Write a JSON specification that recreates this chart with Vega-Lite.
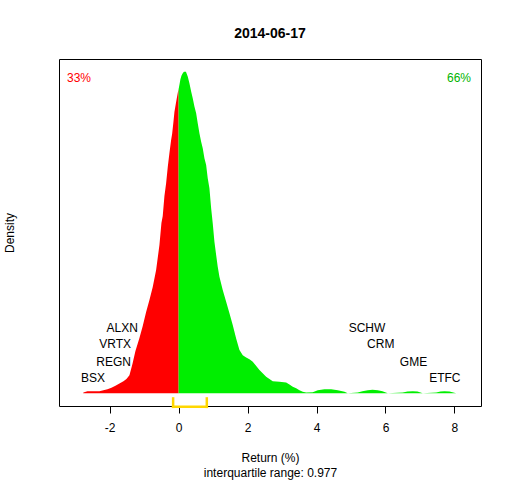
{
  "$schema": "https://vega.github.io/schema/vega-lite/v6.json",
  "width": 422,
  "height": 347,
  "autosize": {"type": "none"},
  "padding": {"left": 59, "top": 59, "right": 31, "bottom": 74},
  "background": "white",
  "title": {
    "text": "2014-06-17",
    "font": "Liberation Sans",
    "fontSize": 14,
    "fontWeight": "bold",
    "color": "black",
    "anchor": "middle",
    "frame": "group",
    "baseline": "alphabetic",
    "offset": 7
  },
  "datasets": {
    "density": [
      {"ret": -2.77, "dens": 0, "side": "neg"},
      {"ret": -2.762, "dens": 0.0013, "side": "neg"},
      {"ret": -2.646, "dens": 0.0037, "side": "neg"},
      {"ret": -2.298, "dens": 0.0037, "side": "neg"},
      {"ret": -2.181, "dens": 0.0056, "side": "neg"},
      {"ret": -2.065, "dens": 0.0075, "side": "neg"},
      {"ret": -1.949, "dens": 0.0103, "side": "neg"},
      {"ret": -1.833, "dens": 0.014, "side": "neg"},
      {"ret": -1.717, "dens": 0.0178, "side": "neg"},
      {"ret": -1.601, "dens": 0.0224, "side": "neg"},
      {"ret": -1.514, "dens": 0.0262, "side": "neg"},
      {"ret": -1.427, "dens": 0.0336, "side": "neg"},
      {"ret": -1.34, "dens": 0.0542, "side": "neg"},
      {"ret": -1.253, "dens": 0.0785, "side": "neg"},
      {"ret": -1.137, "dens": 0.1028, "side": "neg"},
      {"ret": -1.041, "dens": 0.1252, "side": "neg"},
      {"ret": -0.943, "dens": 0.1514, "side": "neg"},
      {"ret": -0.847, "dens": 0.1738, "side": "neg"},
      {"ret": -0.751, "dens": 0.1981, "side": "neg"},
      {"ret": -0.653, "dens": 0.2299, "side": "neg"},
      {"ret": -0.557, "dens": 0.2766, "side": "neg"},
      {"ret": -0.499, "dens": 0.3177, "side": "neg"},
      {"ret": -0.461, "dens": 0.3308, "side": "neg"},
      {"ret": -0.412, "dens": 0.368, "side": "neg"},
      {"ret": -0.363, "dens": 0.392, "side": "neg"},
      {"ret": -0.316, "dens": 0.422, "side": "neg"},
      {"ret": -0.267, "dens": 0.4486, "side": "neg"},
      {"ret": -0.218, "dens": 0.4729, "side": "neg"},
      {"ret": -0.189, "dens": 0.4841, "side": "neg"},
      {"ret": -0.151, "dens": 0.5065, "side": "neg"},
      {"ret": -0.122, "dens": 0.5252, "side": "neg"},
      {"ret": -0.073, "dens": 0.5439, "side": "neg"},
      {"ret": -0.026, "dens": 0.5607, "side": "neg"},
      {"ret": 0, "dens": 0.568, "side": "neg"},
      {"ret": 0, "dens": 0.568, "side": "pos"},
      {"ret": 0.023, "dens": 0.5757, "side": "pos"},
      {"ret": 0.052, "dens": 0.5863, "side": "pos"},
      {"ret": 0.081, "dens": 0.5925, "side": "pos"},
      {"ret": 0.119, "dens": 0.5975, "side": "pos"},
      {"ret": 0.154, "dens": 0.6, "side": "pos"},
      {"ret": 0.212, "dens": 0.6, "side": "pos"},
      {"ret": 0.264, "dens": 0.5912, "side": "pos"},
      {"ret": 0.313, "dens": 0.5788, "side": "pos"},
      {"ret": 0.363, "dens": 0.5631, "side": "pos"},
      {"ret": 0.409, "dens": 0.5508, "side": "pos"},
      {"ret": 0.458, "dens": 0.5351, "side": "pos"},
      {"ret": 0.508, "dens": 0.5228, "side": "pos"},
      {"ret": 0.554, "dens": 0.5041, "side": "pos"},
      {"ret": 0.603, "dens": 0.4854, "side": "pos"},
      {"ret": 0.653, "dens": 0.4697, "side": "pos"},
      {"ret": 0.699, "dens": 0.4573, "side": "pos"},
      {"ret": 0.748, "dens": 0.4387, "side": "pos"},
      {"ret": 0.798, "dens": 0.4262, "side": "pos"},
      {"ret": 0.844, "dens": 0.4013, "side": "pos"},
      {"ret": 0.893, "dens": 0.3826, "side": "pos"},
      {"ret": 0.943, "dens": 0.3452, "side": "pos"},
      {"ret": 0.989, "dens": 0.3172, "side": "pos"},
      {"ret": 1.038, "dens": 0.2828, "side": "pos"},
      {"ret": 1.088, "dens": 0.2579, "side": "pos"},
      {"ret": 1.134, "dens": 0.2361, "side": "pos"},
      {"ret": 1.183, "dens": 0.2174, "side": "pos"},
      {"ret": 1.279, "dens": 0.1925, "side": "pos"},
      {"ret": 1.378, "dens": 0.1706, "side": "pos"},
      {"ret": 1.474, "dens": 0.149, "side": "pos"},
      {"ret": 1.569, "dens": 0.1271, "side": "pos"},
      {"ret": 1.668, "dens": 0.1022, "side": "pos"},
      {"ret": 1.764, "dens": 0.0804, "side": "pos"},
      {"ret": 1.86, "dens": 0.071, "side": "pos"},
      {"ret": 1.958, "dens": 0.0667, "side": "pos"},
      {"ret": 2.054, "dens": 0.0635, "side": "pos"},
      {"ret": 2.15, "dens": 0.0585, "side": "pos"},
      {"ret": 2.344, "dens": 0.043, "side": "pos"},
      {"ret": 2.538, "dens": 0.0305, "side": "pos"},
      {"ret": 2.73, "dens": 0.0224, "side": "pos"},
      {"ret": 2.924, "dens": 0.0211, "side": "pos"},
      {"ret": 3.119, "dens": 0.02, "side": "pos"},
      {"ret": 3.214, "dens": 0.0163, "side": "pos"},
      {"ret": 3.31, "dens": 0.0118, "side": "pos"},
      {"ret": 3.409, "dens": 0.0093, "side": "pos"},
      {"ret": 3.504, "dens": 0.0056, "side": "pos"},
      {"ret": 3.6, "dens": 0.0028, "side": "pos"},
      {"ret": 3.699, "dens": 0.0013, "side": "pos"},
      {"ret": 3.89, "dens": 0.0019, "side": "pos"},
      {"ret": 4.035, "dens": 0.0056, "side": "pos"},
      {"ret": 4.23, "dens": 0.0075, "side": "pos"},
      {"ret": 4.424, "dens": 0.0075, "side": "pos"},
      {"ret": 4.615, "dens": 0.0056, "side": "pos"},
      {"ret": 4.81, "dens": 0.0024, "side": "pos"},
      {"ret": 4.905, "dens": 0, "side": "pos"},
      {"ret": 5.195, "dens": 0.0013, "side": "pos"},
      {"ret": 5.332, "dens": 0.0037, "side": "pos"},
      {"ret": 5.486, "dens": 0.0056, "side": "pos"},
      {"ret": 5.623, "dens": 0.0062, "side": "pos"},
      {"ret": 5.776, "dens": 0.0056, "side": "pos"},
      {"ret": 5.912, "dens": 0.0037, "side": "pos"},
      {"ret": 6.066, "dens": 0, "side": "pos"},
      {"ret": 6.501, "dens": 0.0013, "side": "pos"},
      {"ret": 6.637, "dens": 0.0032, "side": "pos"},
      {"ret": 6.791, "dens": 0.0037, "side": "pos"},
      {"ret": 6.927, "dens": 0.0032, "side": "pos"},
      {"ret": 7.081, "dens": 0, "side": "pos"},
      {"ret": 7.47, "dens": 0.0013, "side": "pos"},
      {"ret": 7.595, "dens": 0.0032, "side": "pos"},
      {"ret": 7.711, "dens": 0.0037, "side": "pos"},
      {"ret": 7.856, "dens": 0.0032, "side": "pos"},
      {"ret": 8.05, "dens": 0, "side": "pos"}
    ],
    "tickers": [
      {"ticker": "ALXN", "ret": -1.636, "level": 0.122},
      {"ticker": "VRTX", "ret": -1.839, "level": 0.091},
      {"ticker": "REGN", "ret": -1.886, "level": 0.0585},
      {"ticker": "BSX", "ret": -2.486, "level": 0.0286},
      {"ticker": "SCHW", "ret": 5.463, "level": 0.122},
      {"ticker": "CRM", "ret": 5.863, "level": 0.091},
      {"ticker": "GME", "ret": 6.812, "level": 0.0585},
      {"ticker": "ETFC", "ret": 7.72, "level": 0.0286}
    ],
    "shares": [
      {"label": "33%", "side": "neg", "ret": -2.89, "level": 0.589},
      {"label": "66%", "side": "pos", "ret": 8.131, "level": 0.589}
    ],
    "iqr": [
      {"q1": -0.16, "q3": 0.817}
    ]
  },
  "layer": [
    {
      "data": {"name": "density"},
      "mark": {"type": "area", "interpolate": "linear", "opacity": 1},
      "encoding": {
        "x": {
          "field": "ret",
          "type": "quantitative",
          "title": ["Return (%)", "interquartile range: 0.977"],
          "scale": {"domain": [-3.47, 8.77], "nice": false, "zero": false},
          "axis": {"values": [-2, 0, 2, 4, 6, 8], "labelExpr": "'' + datum.value"}
        },
        "y": {
          "field": "dens",
          "type": "quantitative",
          "title": "Density",
          "scale": {"domain": [-0.024, 0.624], "nice": false, "zero": false},
          "axis": {"labels": false, "ticks": false, "domain": false}
        },
        "y2": {"datum": 0},
        "color": {
          "field": "side",
          "type": "nominal",
          "scale": {"domain": ["neg", "pos"], "range": ["#FF0000", "#00EE00"]},
          "legend": null
        }
      }
    },
    {
      "mark": {"type": "rule", "color": "#BEBEBE", "strokeWidth": 1},
      "encoding": {
        "x": {"datum": -3.47, "type": "quantitative"},
        "x2": {"datum": 8.77},
        "y": {"datum": 0, "type": "quantitative"}
      }
    },
    {
      "mark": {"type": "rule", "color": "white", "strokeWidth": 1.3},
      "encoding": {
        "x": {"datum": 0, "type": "quantitative"},
        "y": {"datum": 0, "type": "quantitative"},
        "y2": {"datum": 0.572}
      }
    },
    {
      "data": {"name": "iqr"},
      "mark": {"type": "rule", "color": "#FFD700", "strokeWidth": 2.5, "strokeCap": "square"},
      "encoding": {
        "x": {"field": "q1", "type": "quantitative"},
        "x2": {"field": "q3"},
        "y": {"datum": -0.0256, "type": "quantitative"}
      }
    },
    {
      "data": {"name": "iqr"},
      "mark": {"type": "rule", "color": "#FFD700", "strokeWidth": 2.5, "strokeCap": "square"},
      "encoding": {
        "x": {"field": "q1", "type": "quantitative"},
        "y": {"datum": -0.0256, "type": "quantitative"},
        "y2": {"datum": -0.0099}
      }
    },
    {
      "data": {"name": "iqr"},
      "mark": {"type": "rule", "color": "#FFD700", "strokeWidth": 2.5, "strokeCap": "square"},
      "encoding": {
        "x": {"field": "q3", "type": "quantitative"},
        "y": {"datum": -0.0256, "type": "quantitative"},
        "y2": {"datum": -0.0099}
      }
    },
    {
      "data": {"name": "tickers"},
      "mark": {
        "type": "text",
        "font": "Liberation Sans",
        "fontSize": 12,
        "color": "black",
        "align": "center",
        "baseline": "middle"
      },
      "encoding": {
        "x": {"field": "ret", "type": "quantitative"},
        "y": {"field": "level", "type": "quantitative"},
        "text": {"field": "ticker"}
      }
    },
    {
      "data": {"name": "shares"},
      "mark": {
        "type": "text",
        "font": "Liberation Sans",
        "fontSize": 12,
        "align": "center",
        "baseline": "middle"
      },
      "encoding": {
        "x": {"field": "ret", "type": "quantitative"},
        "y": {"field": "level", "type": "quantitative"},
        "text": {"field": "label"},
        "color": {
          "field": "side",
          "type": "nominal",
          "scale": {"domain": ["neg", "pos"], "range": ["#FF0000", "#00B400"]},
          "legend": null
        }
      }
    }
  ],
  "resolve": {"scale": {"color": "independent"}},
  "config": {
    "view": {"stroke": "black", "strokeWidth": 1},
    "axis": {
      "grid": false,
      "labelFont": "Liberation Sans",
      "titleFont": "Liberation Sans",
      "labelFontSize": 12,
      "titleFontSize": 12,
      "titleFontWeight": "normal",
      "labelColor": "black",
      "titleColor": "black",
      "tickColor": "black"
    },
    "axisX": {
      "domain": false,
      "tickSize": 7,
      "labelPadding": 9,
      "titleLineHeight": 15,
      "titleBaseline": "alphabetic",
      "titleY": 55
    },
    "axisY": {
      "titleX": -46,
      "titleY": 173.5,
      "titleAngle": -90,
      "titleAlign": "center",
      "titleBaseline": "alphabetic"
    }
  }
}
